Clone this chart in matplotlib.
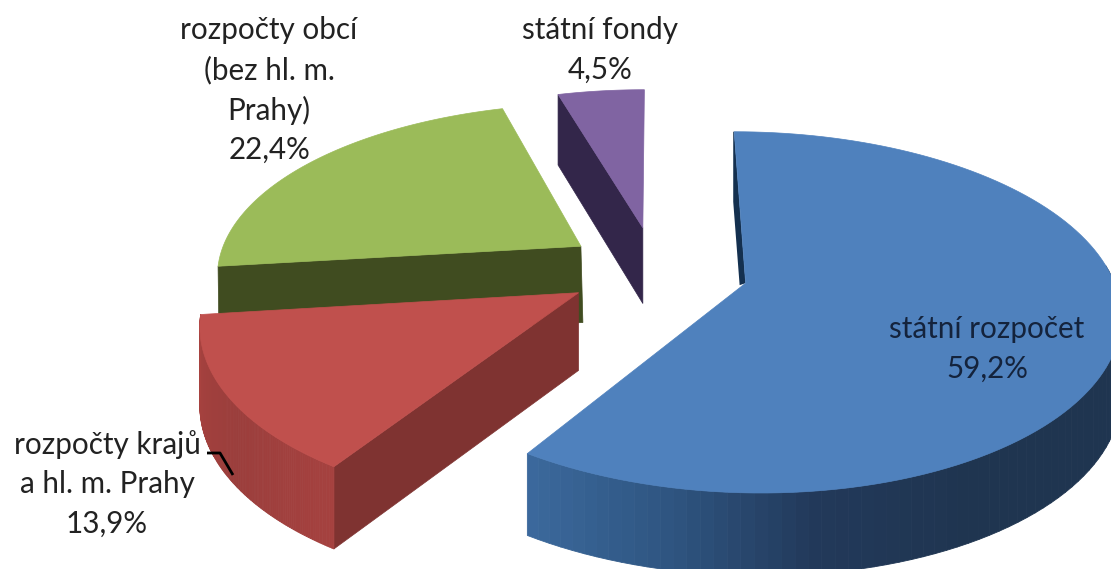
import numpy as np
import matplotlib
matplotlib.use("Agg")
import matplotlib.pyplot as plt
from matplotlib.collections import PolyCollection
from matplotlib.colors import to_rgb

# Clockwise from 12 o'clock
labels = ["státní rozpočet", "rozpočty krajů\na hl. m. Prahy", "rozpočty obcí\n(bez hl. m.\nPrahy)", "státní fondy"]
shares = [59.2, 13.9, 22.4, 4.5]

top_colors = ["#4f81bd", "#c0504d", "#9bbb59", "#8064a2"]
cut_colors = ["#14304f", "#7f3331", "#404c20", "#33264a"]
# outer wall shade, keyed on angle
wall_shades = {
    0: ([90, 150, 172, 192, 213], ["#1f3550", "#1f3550", "#22395a", "#2f5682", "#3c6a9e"]),
    1: ([213, 235, 263], ["#a5413f", "#9b3e3c", "#a8423f"]),
}
label_pos = [(987, 349), (107, 484), (269, 90), (600, 50)]
label_colors = ["#14233c", "#222222", "#222222", "#222222"]
nudges = [(3, 3), (0, 2), (-2, 1), (-1, 0)]

CX, CY = 656, 268
SX, SY = 365, 172
PERSP_X, PERSP_Y = 0.15, 0.16
EXPLODE = 0.245
DEPTH = 77


def project(x, y):
    return CX + SX * x / (1 + PERSP_X * y), CY - SY * y / (1 + PERSP_Y * y)


def depth_at(y):
    return DEPTH * (1 - 0.07 * y)


def wall_rgb(idx, angle):
    stops, colors = wall_shades[idx]
    cols = np.array([to_rgb(c) for c in colors])
    return [np.interp(angle, stops, cols[:, ch]) for ch in range(3)]


fig = plt.figure(figsize=(11.11, 5.69), dpi=100)
ax = fig.add_axes([0, 0, 1, 1])
ax.set_xlim(0, 1111)
ax.set_ylim(569, 0)
ax.axis("off")

edges = np.concatenate([[0], np.cumsum(shares) / sum(shares) * 360])
top_z = [7, 4, 2.5, 1.5]
for i in [3, 2, 1, 0]:
    a0, a1 = edges[i], edges[i + 1]
    mid = np.radians((a0 + a1) / 2)
    ox, oy = EXPLODE * np.sin(mid), EXPLODE * np.cos(mid)
    angles = np.linspace(a0, a1, 120)
    t = np.radians(angles)
    xs, ys = project(ox + np.sin(t), oy + np.cos(t))
    xs, ys = xs + nudges[i][0], ys + nudges[i][1]
    px, py = project(ox, oy)
    px, py = px + nudges[i][0], py + nudges[i][1]
    drop = depth_at(oy + np.cos(t))
    apex_drop = depth_at(oy)

    # radial cut faces
    if i == 0:
        # thin sliver along the 12 o'clock cut
        ax.fill([xs[0], px, px - 6, xs[0] - 1, xs[0] - 1], [ys[0], py, py + 2, ys[0] + 70, ys[0]],
                color=cut_colors[i], lw=0, zorder=5)
    elif i == 2:
        ax.fill([xs[0], px, px + 2, xs[0] + 1], [ys[0], py, py + apex_drop, ys[0] + drop[0]],
                color=cut_colors[i], lw=0.5, zorder=2)
    else:
        ax.fill([xs[0], px, px, xs[0]], [ys[0], py, py + apex_drop, ys[0] + drop[0]],
                color=cut_colors[i], lw=0.5, zorder=3 if i == 1 else 1)

    # outer wall, only the part facing the viewer
    if i in wall_shades:
        quads, cols = [], []
        for k in range(len(angles) - 1):
            if np.cos(t[k]) > 0.12:
                continue
            quads.append([(xs[k], ys[k]), (xs[k + 1], ys[k + 1]),
                          (xs[k + 1], ys[k + 1] + drop[k + 1]), (xs[k], ys[k] + drop[k])])
            cols.append(wall_rgb(i, angles[k]))
        ax.add_collection(PolyCollection(quads, facecolors=cols, edgecolors=cols, linewidths=0.6,
                                         zorder=3 if i == 1 else 6))

    ax.fill(np.r_[px, xs], np.r_[py, ys], color=top_colors[i], lw=0.5, zorder=top_z[i])

# leader line for the small slice label
ax.plot([207, 220, 233], [453, 453, 475], color="black", lw=2, zorder=8, solid_capstyle="butt")

for i, (label, share) in enumerate(zip(labels, shares)):
    text = label + "\n" + f"{share:.1f}%".replace(".", ",")
    ax.text(label_pos[i][0], label_pos[i][1], text, ha="center", va="center", family="Lato",
            fontsize=21.3, color=label_colors[i], linespacing=1.48, zorder=10)

fig.savefig("out.png", dpi=100)
